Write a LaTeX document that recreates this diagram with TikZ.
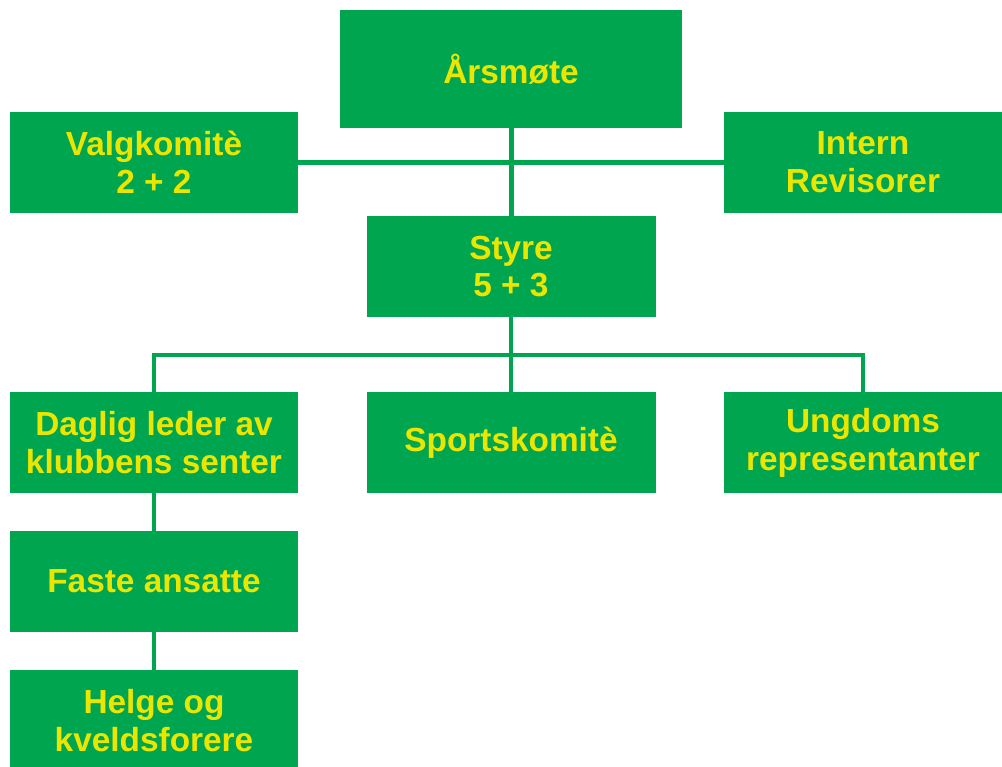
\documentclass[tikz,border=0pt]{standalone}
\usepackage{fontspec}
\setmainfont{Liberation Sans}
\definecolor{orggreen}{RGB}{0,165,80}
\definecolor{orgyellow}{RGB}{235,230,0}
\begin{document}
\begin{tikzpicture}[x=0.02cm, y=-0.02cm,
    box/.style={fill=orggreen, text=orgyellow, font=\fontsize{19}{21.5}\selectfont\bfseries,
        align=center, inner sep=0pt, minimum width=288*0.02cm, minimum height=101*0.02cm},
    link/.style={draw=orggreen, line width=0.1cm},
    thin link/.style={draw=orggreen, line width=0.08cm}]
        \useasboundingbox (0,0) rectangle (1002,767);
        % Top level
        \node[box, minimum width=342*0.02cm, minimum height=118*0.02cm] (aars) at (511,69) {Årsmøte};
        \node[box] (valg) at (154,162.5) {Valgkomitè\\2 + 2};
        \node[box, minimum width=278*0.02cm] (intern) at (863,162.5) {Intern\\Revisorer};
        \node[box, minimum width=289*0.02cm] (styre) at (511,266.5) {Styre\\5 + 3};
        % Under styret
        \node[box] (daglig) at (154,442.5) {Daglig leder av\\klubbens senter};
        \node[box, minimum width=289*0.02cm] (sport) at (511,442.5) {Sportskomitè};
        \node[box, minimum width=278*0.02cm] (ungdom) at (863,442.5) {Ungdoms\\representanter};
        % Senteret
        \node[box] (faste) at (154,581.5) {Faste ansatte};
        \node[box] (helge) at (154,720.5) {Helge og\\kveldsforere};
        % Connectors
        \draw[link] (aars.south) -- (styre.north);
        \draw[link] (valg.east) -- (intern.west);
        \coordinate (bus) at (511,355);
        \draw[thin link] (styre.south) -- (sport.north);
        \draw[thin link] (daglig.north) |- (bus) -| (ungdom.north);
        \draw[thin link] (daglig.south) -- (faste.north);
        \draw[thin link] (faste.south) -- (helge.north);
    \end{tikzpicture}
\end{document}
